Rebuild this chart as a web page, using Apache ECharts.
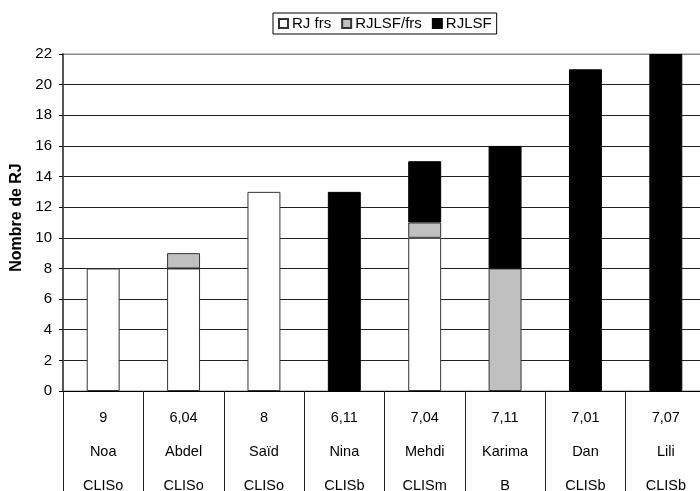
<!DOCTYPE html>
<html><head><meta charset="utf-8">
<script src="https://cdn.jsdelivr.net/npm/echarts@6/dist/echarts.min.js"></script>
<style>html,body{margin:0;padding:0;background:#fff}#c{width:700px;height:491px}</style>
</head><body><div id="c"></div>
<script>
const ages = ['9','6,04','8','6,11','7,04','7,11','7,01','7,07'];
const names = ['Noa','Abdel','Saïd','Nina','Mehdi','Karima','Dan','Lili'];
const classes = ['CLISo','CLISo','CLISo','CLISb','CLISm','B','CLISb','CLISb'];
const rjFrs = [8, 8, 13, 0, 10, 0, 0, 0];
const rjlsfFrs = [0, 1, 0, 0, 1, 8, 0, 0];
const rjlsf = [0, 0, 0, 13, 4, 8, 21, 22];
const yTicks = {min: 0, max: 22, interval: 2};

const cats = names.map((n, i) => ages[i] + '\n' + n + '\n' + classes[i]);
const font = 'Liberation Sans, Arial, sans-serif';
const nLines = (yTicks.max - yTicks.min) / yTicks.interval + 1;
const splitColors = Array.from({length: nLines}, (_, i) => (i === nLines - 1 ? '#888' : '#222'));
const chart = echarts.init(document.getElementById('c'), null, {renderer: 'canvas'});
const mk = (name, data, color, border) => ({
  name, type: 'bar', stack: 'a',
  data: data.map(v => (v === 0 ? null : v)),
  barWidth: '41%',
  itemStyle: {color, borderColor: border, borderWidth: 1},
  emphasis: {disabled: true}
});
chart.setOption({
  animation: false,
  textStyle: {fontFamily: font},
  legend: {
    left: 273, top: 13,
    padding: [3, 5, 3, 5],
    borderColor: '#000', borderWidth: 1,
    icon: 'rect', itemWidth: 9, itemHeight: 9, itemGap: 10,
    textStyle: {fontFamily: font, fontSize: 15, color: '#000', padding: [0, 0, 0, -1]},
    data: ['RJ frs', 'RJLSF/frs', 'RJLSF']
  },
  grid: {left: 63, top: 54, width: 643, bottom: 100, outerBoundsMode: 'none', containLabel: false,
         show: true, borderColor: '#888', borderWidth: 1},
  xAxis: {
    type: 'category', data: cats,
    axisLine: {lineStyle: {color: '#000', width: 1}},
    axisTick: {show: true, length: 100, lineStyle: {color: '#222'}},
    axisLabel: {fontFamily: font, fontSize: 14.5, color: '#000', lineHeight: 34, margin: 10, interval: 0}
  },
  yAxis: {
    type: 'value', min: yTicks.min, max: yTicks.max, interval: yTicks.interval,
    name: 'Nombre de RJ', nameLocation: 'middle', nameGap: 38,
    nameTextStyle: {fontFamily: font, fontSize: 16, fontWeight: 'bold', color: '#000', padding: [0, 0, 0, 10]},
    axisLine: {show: true, lineStyle: {color: '#555', width: 2}},
    axisTick: {show: true, length: 4, lineStyle: {color: '#000'}},
    axisLabel: {fontFamily: font, fontSize: 15, color: '#000', margin: 11},
    splitLine: {lineStyle: {color: splitColors, width: 1}}
  },
  series: [
    mk('RJ frs', rjFrs, '#ffffff', '#333'),
    mk('RJLSF/frs', rjlsfFrs, '#c0c0c0', '#333'),
    mk('RJLSF', rjlsf, '#000000', '#000')
  ]
});
</script></body></html>
